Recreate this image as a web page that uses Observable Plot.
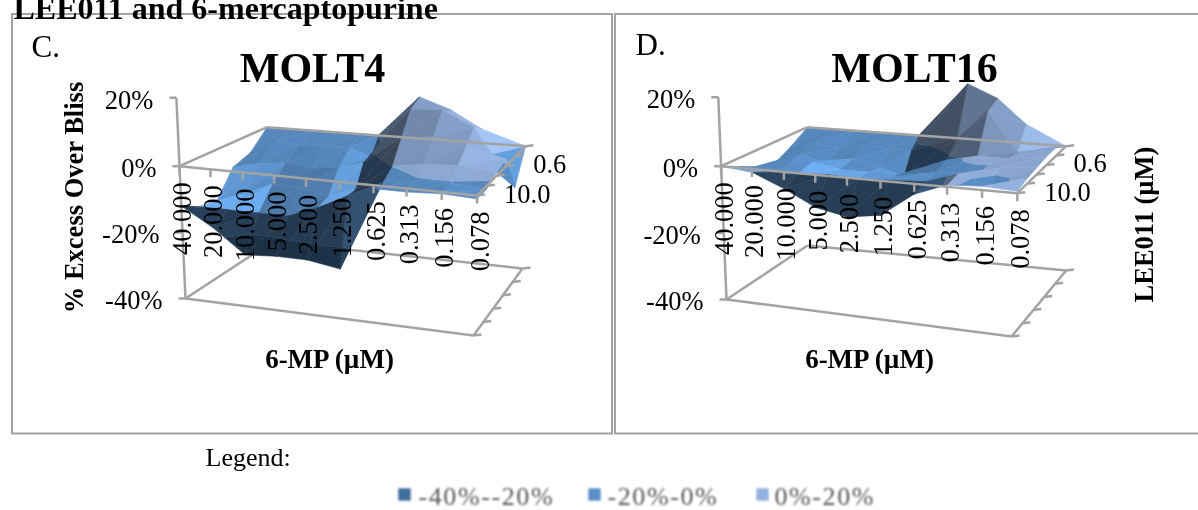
<!DOCTYPE html>
<html><head><meta charset="utf-8">
<script src="https://cdn.jsdelivr.net/npm/d3@7"></script>
<script src="https://cdn.jsdelivr.net/npm/@observablehq/plot@0.6"></script>
<style>
html,body{margin:0;padding:0;background:#fff;overflow:hidden}
svg{display:block;filter:blur(.45px)}
.legendmark{filter:blur(.9px)}
text.legendmark,.legendmark text{letter-spacing:1.6px}
</style></head><body>
<script>
const drugLabels = ["40.000","20.000","10.000","5.000","2.500","1.250","0.625","0.313","0.156","0.078"];
const depthLabels = ["10.0","0.6"];
const depthRows = [0,3];
const zTicks = [20,0,-20,-40];
// % excess over Bliss, rows from the front (10.0) to the back
const molt4 = [
 [-12,-17.5,-24.6,-24,-24,-25.5,-1,-1,-0.5,-1],
 [-15,-15,-15,-15,-11.5,-7,-2,-0.3,-0.2,-1],
 [-16,-13,-9,-9,-11,-8,0,1.6,2,1],
 [-8,-6,-5,-6,-5,-3,6,7,5,2],
 [-6,-1.5,-2,-2,-1.5,-4,12,12.5,8,-10],
 [0,0,0,0,0,0,13.5,10,4.5,0]
];
const molt16 = [
 [0,-1,-5,-9.6,-11.4,-10,-3,0.5,1,0.5],
 [-2.5,-3,-3,-2.5,-3,-2.5,-2,1,-1.5,1.5],
 [-5,-5,-2,-3.5,-3.5,-4,-2,-1,1,2],
 [-7,-3,-5,-3,-5,-7,-1,1,1,2.5],
 [-4,-2,-3,-1.5,-2,-2,3,12,0,2.5],
 [0,0,0,0,0,0,17.5,13.5,6,0]
];
const frontFrac = [0,.104,.212,.318,.425,.538,.652,.763,.881,1];
const backFracMolt4 = [0,.09,.18,.27,.36,.43,.59,.71,.83,1];
const backFracMolt16 = [0,.09,.18,.27,.36,.43,.62,.735,.845,1];
const bandNames = ["-40%--20%","-20%-0%","0%-20%"];
const bandColors = ["#3f6f9f","#5a8fc8","#93b1de"];
const bandEdges = [-40,-20,0,20];
// facet lightness per grid cell, front to back
const lightMolt4 = [
 [.42,.42,.42,.42,.42,.6,.95,.95,1],
 [1.2,1.2,.85,.85,1.2,.42,.95,.95,.95],
 [1.1,1.05,.85,.85,1.15,.42,.85,.85,.98],
 [.95,.95,.9,.95,1.05,.5,.78,.85,.95],
 [.95,.95,.95,.95,.95,.55,.85,.95,1.05]
];
const lightMolt16 = [
 [1.1,.45,.42,.42,.42,.42,.6,.95,1],
 [.95,1,1.2,1.15,1.05,1,.95,.95,.95],
 [.95,1,1.1,.95,1.05,.85,.95,.95,.95],
 [.95,.95,.95,.95,.95,.42,.55,.8,.95],
 [.95,.95,.95,.95,.95,.48,.62,.85,1]
];
const panels = [
 {name:"MOLT4",letter:"C.",grid:molt4,light:lightMolt4,back:backFracMolt4,lx:31,ly:47,
  z0:{fl:[179,165.7],fr:[476.6,195],br:[525,145.7],bl:[266.5,126.7]},
  z1:{fl:[185,298],fr:[473,335],br:[522,268],bl:[272,241]},
  frame:[12,612],titleX:312,xTitleX:329},
 {name:"MOLT16",letter:"D.",grid:molt16,light:lightMolt16,back:backFracMolt16,lx:635,ly:44.5,
  z0:{fl:[720.6,165.7],fr:[1016.8,192.7],br:[1065.6,145.7],bl:[806.9,126.7]},
  z1:{fl:[726,299],fr:[1011,336],br:[1065.6,270],bl:[807,245]},
  frame:[615,1199],titleX:914,xTitleX:869}
];
const lerp=(a,b,t)=>[a[0]+(b[0]-a[0])*t,a[1]+(b[1]-a[1])*t];
function project(p,i,v,z){
  const tf=frontFrac[i],tb=p.back[i],r=v/5;
  const a=lerp(lerp(p.z0.fl,p.z0.fr,tf),lerp(p.z0.bl,p.z0.br,tb),r);
  const b=lerp(lerp(p.z1.fl,p.z1.fr,tf),lerp(p.z1.bl,p.z1.br,tb),r);
  return lerp(a,b,(z>0?1.035:1)*z/-40);
}
function clip(poly,lim,keepAbove){
  const out=[];
  for(let k=0;k<poly.length;k++){
    const A=poly[k],B=poly[(k+1)%poly.length];
    const ia=keepAbove?A.z>=lim:A.z<=lim, ib=keepAbove?B.z>=lim:B.z<=lim;
    if(ia)out.push(A);
    if(ia!==ib){const t=(lim-A.z)/(B.z-A.z);out.push({x:A.x+(B.x-A.x)*t,y:A.y+(B.y-A.y)*t,z:lim});}
  }
  return out;
}
function shade(hex,m){const c=d3.rgb(hex);return d3.rgb(Math.min(255,c.r*m),Math.min(255,c.g*m),Math.min(255,c.b*m)).formatHex();}
function facets(p){
  const tris=[],g=p.grid;
  const vert=(i,v)=>({i,v,z:g[v][i],p:project(p,i,v,g[v][i])});
  for(let v=0;v<5;v++)for(let i=0;i<9;i++){
    const a=vert(i,v),b=vert(i+1,v),c=vert(i+1,v+1),d=vert(i,v+1);
    const l=p.light[v][i];
    tris.push({t:[a,b,c],gx:b.z-a.z,l},{t:[a,c,d],gx:c.z-d.z,l});
  }
  const sorted=tris.map(f=>{
    const cv=d3.mean(f.t,q=>q.v),ci=d3.mean(f.t,q=>q.i);
    const m=f.l*(1-.06*Math.max(-1,Math.min(1,f.gx/4)));
    return {t:f.t,depth:cv-ci*.25,m};
  }).sort((a,b)=>b.depth-a.depth);
  const polys=[];let id=0;
  for(const f of sorted){
    bandColors.forEach((col,bi)=>{
      let poly=f.t.map(q=>({x:q.p[0],y:q.p[1],z:q.z}));
      poly=clip(poly,bandEdges[bi],true);
      if(poly.length)poly=clip(poly,bandEdges[bi+1],false);
      if(poly.length<3)return;
      const fill=shade(col,bi==0?f.m*1.05:f.m);id++;
      for(const q of [...poly,poly[0]])polys.push({x:q.x,y:q.y,id:p.name+id,fill});
    });
  }
  return polys;
}
const surf=panels.flatMap(facets);
const back=[],frontLines=[];
const seg=(arr,a,b)=>arr.push({x1:a[0],y1:a[1],x2:b[0],y2:b[1]});
const tickText=[],zText=[],depthText=[];
for(const p of panels){
  seg(back,project(p,0,0,20),project(p,0,0,-40));
  zTicks.forEach(z=>{const a=project(p,0,0,z);seg(back,[a[0]-7,a[1]],a);zText.push({x:a[0],y:a[1],t:(z)+"%"});});
  seg(back,p.z1.fl,p.z1.fr);seg(back,p.z1.fr,p.z1.br);seg(back,p.z1.br,p.z1.bl);seg(back,p.z1.bl,p.z1.fl);
  d3.range(6).forEach(v=>{const a=project(p,9,v,-40);seg(back,a,[a[0]+8,a[1]-1]);const b=project(p,9,v,0);seg(frontLines,b,[b[0]+8,b[1]-1]);});
  seg(frontLines,p.z0.fl,p.z0.fr);seg(frontLines,p.z0.fr,p.z0.br);seg(frontLines,p.z0.br,p.z0.bl);seg(frontLines,p.z0.bl,p.z0.fl);
  drugLabels.forEach((t,i)=>{const a=project(p,i,0,0);seg(frontLines,a,[a[0],a[1]+8]);tickText.push({x:a[0],y:a[1],t});});
  depthLabels.forEach((t,k)=>{const a=project(p,9,depthRows[k],0);depthText.push({x:a[0],y:a[1],t});});
}
const serif="Liberation Serif";
const txt=(data,o)=>Plot.text(data,{fontFamily:serif,fill:"#000",...o});
const linkG=(d)=>Plot.link(d,{x1:"x1",y1:"y1",x2:"x2",y2:"y2",stroke:"#a3a3a3",strokeWidth:2.5,strokeLinecap:"butt"});
const legendX=[404,594,762],legendTextX=[418,607,774],legendY=494;
const chart=Plot.plot({
  width:1198,height:510,margin:0,
  x:{domain:[0,1198],range:[0,1198],axis:null},
  y:{domain:[0,510],range:[0,510],axis:null},
  color:{type:"identity"},
  style:{background:"#fff",fontFamily:serif},
  marks:[
    Plot.rect(panels,{x1:d=>d.frame[0],x2:d=>d.frame[1],y1:()=>14,y2:()=>433.5,fill:"none",stroke:"#a3a3a3",strokeWidth:2}),
    linkG(back),
    Plot.line(surf,{x:"x",y:"y",z:"id",fill:"fill",stroke:"fill",strokeWidth:.5}),
    linkG(frontLines),
    txt(["LEE011 and 6-mercaptopurine"],{x:()=>13,y:()=>8,text:d=>d,fontSize:32,fontWeight:"bold",textAnchor:"start"}),
    txt(panels,{x:"lx",y:"ly",text:"letter",fontSize:31,textAnchor:"start"}),
    txt(panels,{x:"titleX",y:()=>68,text:"name",fontSize:42,fontWeight:"bold"}),
    txt(panels,{x:"xTitleX",y:()=>359,text:()=>"6-MP (µM)",fontSize:27,fontWeight:"bold"}),
    txt(["% Excess Over Bliss"],{x:()=>74,y:()=>197,text:d=>d,fontSize:26.5,fontWeight:"bold",rotate:-90}),
    txt(["LEE011 (µM)"],{x:()=>1144,y:()=>224,text:d=>d,fontSize:26.5,fontWeight:"bold",rotate:-90}),
    txt(zText,{x:"x",y:"y",text:"t",fontSize:26.5,textAnchor:"end",dx:-23,dy:2.5}),
    txt(tickText,{x:"x",y:"y",text:"t",fontSize:26.5,rotate:-90,textAnchor:"end",dx:3,dy:16}),
    txt(depthText,{x:"x",y:"y",text:"t",fontSize:26.5,textAnchor:"start",dx:27,dy:-1}),
    txt(["Legend:"],{x:()=>205,y:()=>457,text:d=>d,fontSize:26,textAnchor:"start"}),
    Plot.dot(bandNames,{x:(d,i)=>legendX[i],y:()=>legendY,symbol:"square",r:7,fill:(d,i)=>bandColors[i],className:"legendmark"}),
    txt(bandNames,{x:(d,i)=>legendTextX[i],y:()=>legendY+2,text:d=>d,fontSize:26,fill:"#555",textAnchor:"start",className:"legendmark"})
  ]
});
document.body.appendChild(chart);
</script></body></html>
